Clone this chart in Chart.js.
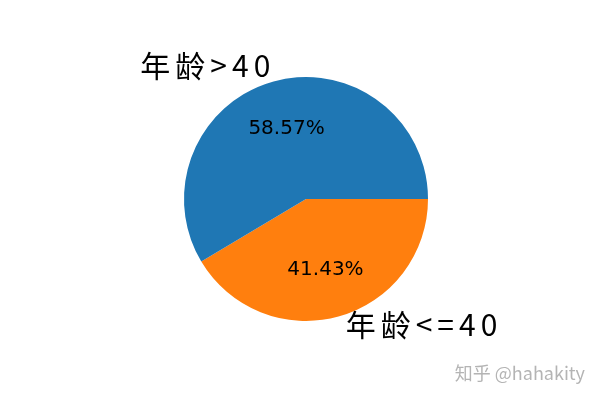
<!DOCTYPE html>
<html>
<head>
<meta charset="utf-8">
<script src="https://cdn.jsdelivr.net/npm/chart.js@4/dist/chart.umd.min.js"></script>
<style>
  html, body { margin: 0; padding: 0; background: #fff; }
  canvas { display: block; }
</style>
</head>
<body>
<canvas id="pieChart" width="600" height="400"></canvas>
<script>
// order: drawn clockwise from 3 o'clock, so the orange slice goes first
const labels = ['年龄<=40', '年龄>40'];
const counts = [29, 41];
const colors = ['#ff7f0e', '#1f77b4'];

const total = counts.reduce((a, b) => a + b, 0);

// draws the outer labels (1.1 r) and the percentages (0.6 r), matplotlib style
const sliceText = {
    id: 'sliceText',
    afterDatasetsDraw(chart) {
        const ctx = chart.ctx;
        const meta = chart.getDatasetMeta(0);
        ctx.save();
        meta.data.forEach((arc, i) => {
            const mid = (arc.startAngle + arc.endAngle) / 2;
            const r = arc.outerRadius;
            const cx = Math.cos(mid), cy = Math.sin(mid);

            ctx.fillStyle = '#000';
            ctx.textBaseline = 'middle';
            ctx.textAlign = 'center';
            ctx.letterSpacing = '0px';
            ctx.font = '20px "DejaVu Sans"';
            const pct = (counts[i] / total * 100).toFixed(2) + '%';
            ctx.fillText(pct, arc.x + cx * r * 0.6, arc.y + cy * r * 0.6);

            ctx.font = '30px "Noto Sans CJK SC"';
            ctx.letterSpacing = '5px';
            ctx.textAlign = cx < 0 ? 'right' : 'left';
            const tx = arc.x + cx * r * 1.1 + (cx < 0 ? 5 : 4);
            ctx.fillText(labels[i], tx, arc.y + cy * r * 1.1 - 4);
        });

        ctx.letterSpacing = '0px';
        ctx.fillStyle = '#b4b4b4';
        ctx.textAlign = 'right';
        ctx.font = '18px "Noto Sans CJK SC"';
        ctx.fillText('知乎 @hahakity', 585, 373);
        ctx.restore();
    }
};

const config = {
    type: 'pie',
    data: {
        labels: labels,
        datasets: [
            {
                data: counts,
                backgroundColor: colors,
                borderWidth: 0,
            },
        ]
    },
    options: {
        responsive: false,
        animation: false,
        rotation: 90,
        layout: {
            padding: { left: 62, right: 50, top: 77, bottom: 79 }
        },
        plugins: {
            legend: { display: false },
            tooltip: { enabled: false },
        }
    },
    plugins: [sliceText],
};

new Chart(document.getElementById('pieChart'), config);
</script>
</body>
</html>
